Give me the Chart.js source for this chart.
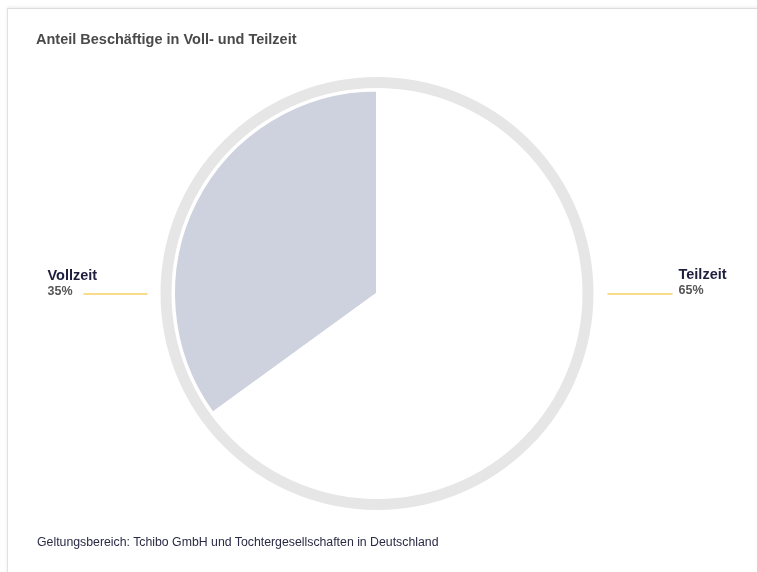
<!DOCTYPE html>
<html lang="de">
<head>
<meta charset="utf-8">
<title>Anteil Beschäftige in Voll- und Teilzeit</title>
<script src="https://cdn.jsdelivr.net/npm/chart.js@4/dist/chart.umd.min.js"></script>
<style>
  html, body { margin: 0; padding: 0; background: #fff; }
  body { width: 757px; height: 572px; position: relative; overflow: hidden; font-family: "Liberation Sans", Arial, sans-serif; }
  .card {
    position: absolute; left: 7px; top: 8px; width: 800px; height: 600px;
    border-top: 1px solid #dcdcdc; border-left: 1px solid #e2e2e2;
    box-shadow: 0 -1px 3px rgba(0,0,0,0.08);
  }
  .titel {
    position: absolute; left: 36px; top: 31px;
    font-size: 14.5px; font-weight: bold; color: #4a4a4a; white-space: nowrap;
  }
  .fussnote {
    position: absolute; left: 37px; top: 535px;
    font-size: 12.3px; color: #2a2b45; white-space: nowrap;
  }
  #anteilChart { position: absolute; left: 0; top: 0; }
</style>
</head>
<body>
<div class="card"></div>
<canvas id="anteilChart" width="757" height="572"></canvas>
<div class="titel">Anteil Beschäftige in Voll- und Teilzeit</div>
<div class="fussnote">Geltungsbereich: Tchibo GmbH und Tochtergesellschaften in Deutschland</div>

<script>
const kategorien = ["Vollzeit", "Teilzeit"];
const anteile = [35, 65];
const farben = ["#cdd2de", "#ffffff"];

const summe = anteile.reduce((a, b) => a + b, 0);

// grauer Ring um den Kuchen
const ringPlugin = {
  id: "ring",
  beforeDatasetsDraw(chart) {
    const arc = chart.getDatasetMeta(0).data[0];
    if (!arc) return;
    const ctx = chart.ctx;
    ctx.save();
    ctx.beginPath();
    ctx.arc(arc.x, arc.y, arc.outerRadius + 8, 0, Math.PI * 2);
    ctx.lineWidth = 11;
    ctx.strokeStyle = "#e6e6e6";
    ctx.stroke();
    ctx.restore();
  }
};

// Beschriftungen links/rechts mit gelber Linie
const labelPlugin = {
  id: "seitenLabels",
  afterDatasetsDraw(chart) {
    const meta = chart.getDatasetMeta(0);
    const ctx = chart.ctx;
    meta.data.forEach((arc, i) => {
      const mitte = (arc.startAngle + arc.endAngle) / 2;
      const links = Math.cos(mitte) < 0;
      const rAussen = arc.outerRadius + 13.5;
      const y = arc.y;
      const prozent = Math.round(anteile[i] / summe * 100) + "%";

      ctx.save();
      ctx.strokeStyle = "#f7dc8e";
      ctx.lineWidth = 2;
      let x1, x2, textX;
      ctx.font = "bold 12.5px 'Liberation Sans', Arial, sans-serif";
      if (links) {
        x2 = arc.x - rAussen - 13;
        x1 = x2 - 64;
        textX = x1 - 11 - ctx.measureText(prozent).width;
      } else {
        x1 = arc.x + rAussen + 14;
        x2 = x1 + 65;
        textX = x2 + 6;
      }
      ctx.beginPath();
      ctx.moveTo(x1, Math.round(y));
      ctx.lineTo(x2, Math.round(y));
      ctx.stroke();

      ctx.textAlign = "left";
      ctx.textBaseline = "alphabetic";
      ctx.fillStyle = "#555555";
      ctx.fillText(prozent, textX, y + (links ? 1.5 : 0));
      ctx.font = "bold 14.5px 'Liberation Sans', Arial, sans-serif";
      ctx.fillStyle = "#1e1f3f";
      ctx.fillText(kategorien[i], textX, y - (links ? 13.5 : 14.5));
      ctx.restore();
    });
  }
};

new Chart(document.getElementById("anteilChart"), {
  type: "pie",
  data: {
    labels: kategorien,
    datasets: [{
      data: anteile,
      backgroundColor: farben,
      hoverBackgroundColor: farben,
      borderColor: "#ffffff",
      borderWidth: 2
    }]
  },
  options: {
    responsive: false,
    animation: false,
    radius: 203,
    rotation: -anteile[0] / summe * 360,
    layout: { padding: { top: 80, bottom: 65, left: 0, right: 3 } },
    plugins: {
      legend: { display: false },
      tooltip: { enabled: false }
    }
  },
  plugins: [ringPlugin, labelPlugin]
});
</script>
</body>
</html>
